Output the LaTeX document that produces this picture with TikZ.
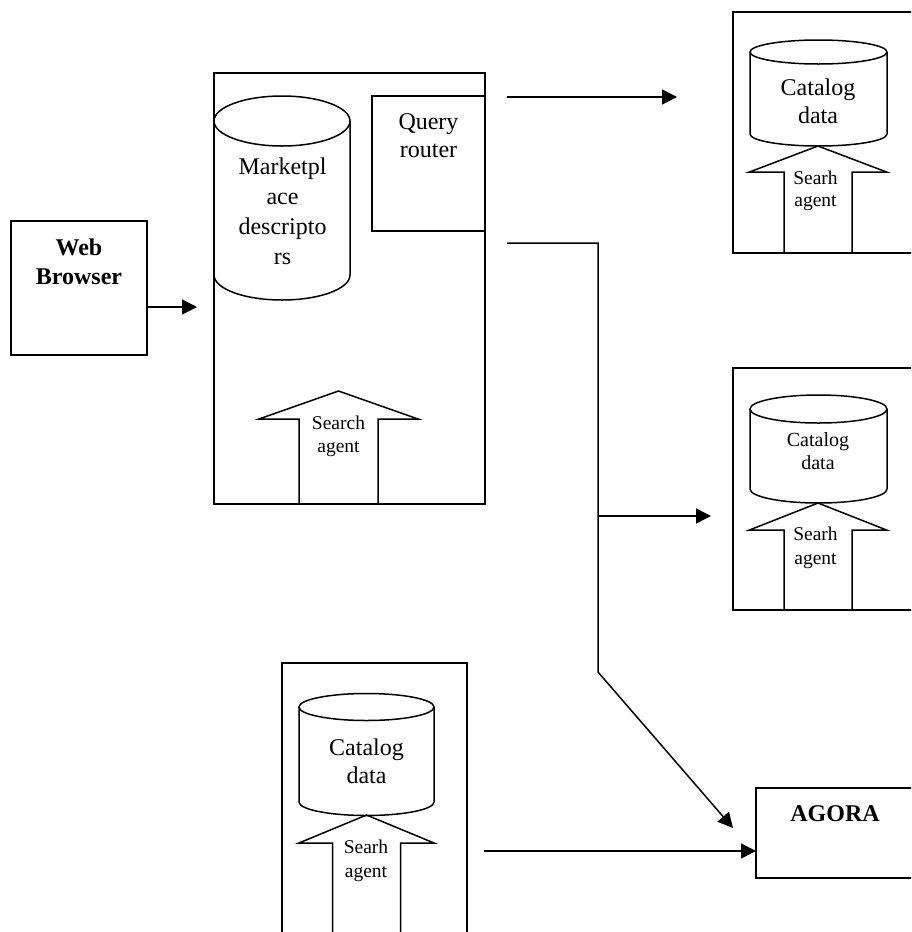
\documentclass[tikz,border=0pt]{standalone}
\usepackage{fontspec}
\setmainfont{Liberation Serif}
\usetikzlibrary{arrows.meta}

% database cylinder: #1 centre x, #2 x radius, #3 top rim y, #4 bottom rim y, #5 rim y radius
\newcommand\dbcyl[5]{%
  \draw[outline] (#1-#2,#3) -- (#1-#2,#4)
    arc[start angle=180,end angle=360,x radius=#2pt,y radius=#5pt] -- (#1+#2,#3);
  \draw[outline] (#1,#3) ellipse[x radius=#2pt,y radius=#5pt];}
% upward block arrow: #1 centre x, #2 tip y, #3 head half width, #4 shaft half width, #5 shoulder y, #6 foot y
\newcommand\blockup[6]{%
  \draw[outline] (#1-#4,#6) -- (#1-#4,#5) -- (#1-#3,#5) -- (#1,#2)
    -- (#1+#3,#5) -- (#1+#4,#5) -- (#1+#4,#6);}

\tikzset{
  outline/.style={line width=1.5pt, line join=miter},
  box/.style={draw, line width=1.5pt, rectangle, inner sep=0pt, outer sep=0pt},
  arr/.style={line width=1.5pt, -{Triangle[length=15pt,width=15pt]}},
  big/.style={font=\fontsize{24}{28}\selectfont, align=center, inner sep=0pt},
  bigbold/.style={font=\fontsize{24}{29}\selectfont\bfseries, align=center, inner sep=0pt},
  small/.style={font=\fontsize{19.5}{23}\selectfont, align=center, inner sep=0pt},
}

\begin{document}
\begin{tikzpicture}[x=1pt,y=-1pt]
\useasboundingbox (0,0) rectangle (911,932);
\clip (0,0) rectangle (911,932);

% web browser
\node[box, minimum width=136pt, minimum height=134pt] (wb) at (79,288) {};
\node[bigbold] (wbtxt) at (79,261.5) {Web\\Browser};

% marketplace server
\node[box, minimum width=271pt, minimum height=431pt] (mb) at (349.5,288.5) {};
\node[box, minimum width=113pt, minimum height=135pt] (qr) at (428.5,163.5) {};
\node[big] (qrtxt) at (428.5,136) {Query\\router};
\dbcyl{282}{68}{121}{275}{25}
\node[font=\fontsize{24}{30}\selectfont, align=center, inner sep=0pt] (mptxt) at (282.5,211.5)
  {Marketpl\\ace\\descripto\\rs};
\blockup{338.5}{391}{79.5}{39.5}{419}{504}
\node[small] (satxt) at (338.5,436.5) {Search\\agent};

% catalog site, top right
\node[box, minimum width=197pt, minimum height=241pt] (tr) at (831.5,132.5) {};
\dbcyl{818.5}{68.5}{52}{134}{12}
\node[big] (trcat) at (818,101) {Catalog\\data};
\blockup{818}{146}{68.5}{34}{172}{253}
\node[font=\fontsize{19.5}{22}\selectfont, align=center, inner sep=0pt] (trag) at (815.5,191) {Searh\\agent};

% catalog site, middle right
\node[box, minimum width=197pt, minimum height=242pt] (mr) at (831.5,489) {};
\dbcyl{818.5}{68.5}{409}{489}{14}
\node[font=\fontsize{20}{23}\selectfont, align=center, inner sep=0pt] (mrcat) at (818,451.5) {Catalog\\data};
\blockup{818}{503}{68.5}{34}{530}{610}
\node[font=\fontsize{19.5}{24}\selectfont, align=center, inner sep=0pt] (mrag) at (815.5,548) {Searh\\agent};

% catalog site, bottom
\node[box, minimum width=185pt, minimum height=282pt] (bl) at (374.5,804) {};
\dbcyl{366.5}{67.5}{707}{802}{13.5}
\node[big] (blcat) at (366.5,761) {Catalog\\data};
\blockup{366.5}{815}{67.5}{34}{843}{945}
\node[font=\fontsize{19.5}{24}\selectfont, align=center, inner sep=0pt] (blag) at (366,861) {Searh\\agent};

% AGORA
\node[box, minimum width=174pt, minimum height=90pt] (ag) at (843,833) {};
\node[bigbold] (agtxt) at (835,814) {AGORA};

% connectors
\coordinate (wbin) at (197,307);
\draw[arr] (wb.east |- wbin) -- (wbin);

\coordinate (qrout) at (507,97);
\coordinate (trin) at (677,97);
\draw[arr] (qrout) -- (trin);

\coordinate (brout) at (507,243);
\coordinate (brk) at (598,243);
\coordinate (bend) at (598,672);
\coordinate (mrin) at (711,516);
\coordinate (agin) at (733,828);
\draw[arr] (brout) -- (brk) -- (bend) -- (agin);
\draw[arr] (brk |- mrin) -- (mrin);

\coordinate (blout) at (484,851);
\draw[arr] (blout) -- (ag.west |- blout);
\end{tikzpicture}
\end{document}
